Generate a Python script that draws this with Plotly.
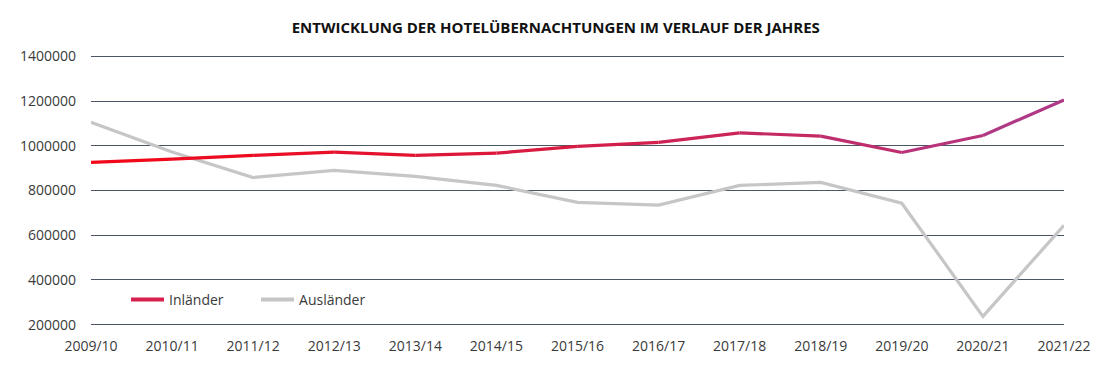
import plotly.graph_objects as go

categories = ["2009/10", "2010/11", "2011/12", "2012/13", "2013/14", "2014/15", "2015/16",
              "2016/17", "2017/18", "2018/19", "2019/20", "2020/21", "2021/22"]
inlaender = [926000, 940000, 957000, 972000, 957000, 967000, 997000,
             1015000, 1058000, 1043000, 970000, 1046000, 1205000]
auslaender = [1105000, 972000, 858000, 890000, 863000, 823000, 747000,
              735000, 823000, 836000, 743000, 237000, 644000]
y_ticks = [200000, 400000, 600000, 800000, 1000000, 1200000, 1400000]

fig = go.Figure()

# Ausländer line
fig.add_trace(go.Scatter(
    x=categories, y=auslaender, mode="lines", name="Ausländer",
    line=dict(color="#c6c6c6", width=3.2), showlegend=False))

# Inländer line with red -> magenta gradient (segment by segment)
c0 = (242, 8, 24)
c1 = (172, 60, 140)
n = len(categories)
for i in range(n - 1):
    t = ((i + 0.5) / (n - 1)) ** 1.3
    col = tuple(round(c0[k] + (c1[k] - c0[k]) * t) for k in range(3))
    fig.add_trace(go.Scatter(
        x=categories[i:i + 2], y=inlaender[i:i + 2], mode="lines",
        line=dict(color="rgb(%d,%d,%d)" % col, width=3.2),
        showlegend=False, hoverinfo="skip"))

# legend entries
fig.add_trace(go.Scatter(x=[None], y=[None], mode="lines", name="Inländer",
                         line=dict(color="#d8204e", width=4)))
fig.add_trace(go.Scatter(x=[None], y=[None], mode="lines", name="Ausländer",
                         line=dict(color="#c6c6c6", width=4)))

fig.update_layout(
    width=1100, height=368,
    margin=dict(l=83, r=44, t=47, b=50),
    paper_bgcolor="white", plot_bgcolor="white",
    font=dict(family="Open Sans", size=14, color="#3a3a3a"),
    title=dict(text="<b>ENTWICKLUNG DER HOTELÜBERNACHTUNGEN IM VERLAUF DER JAHRES</b>",
               x=0.498, xanchor="center", y=0.946, yanchor="middle",
               font=dict(family="Open Sans", size=15, color="#111111")),
    showlegend=True,
    legend=dict(orientation="h", x=0.036, y=0.096, xanchor="left", yanchor="middle",
                bgcolor="rgba(0,0,0,0)", font=dict(size=14, color="#3a3a3a"),
                itemwidth=33, entrywidth=82, entrywidthmode="pixels"),
    xaxis=dict(type="category", range=[0, n - 1], showgrid=False, zeroline=False,
               showline=False, ticks="", tickfont=dict(size=14, color="#3a3a3a"),
               ticklabelstandoff=10),
    yaxis=dict(range=[194000, 1406000], tickvals=y_ticks, showgrid=True,
               gridcolor="#4b5566", gridwidth=1, zeroline=False, showline=False,
               ticks="", tickformat="d", tickfont=dict(size=14, color="#3a3a3a"),
               ticklabelstandoff=14),
)

fig.write_html("out.html")
